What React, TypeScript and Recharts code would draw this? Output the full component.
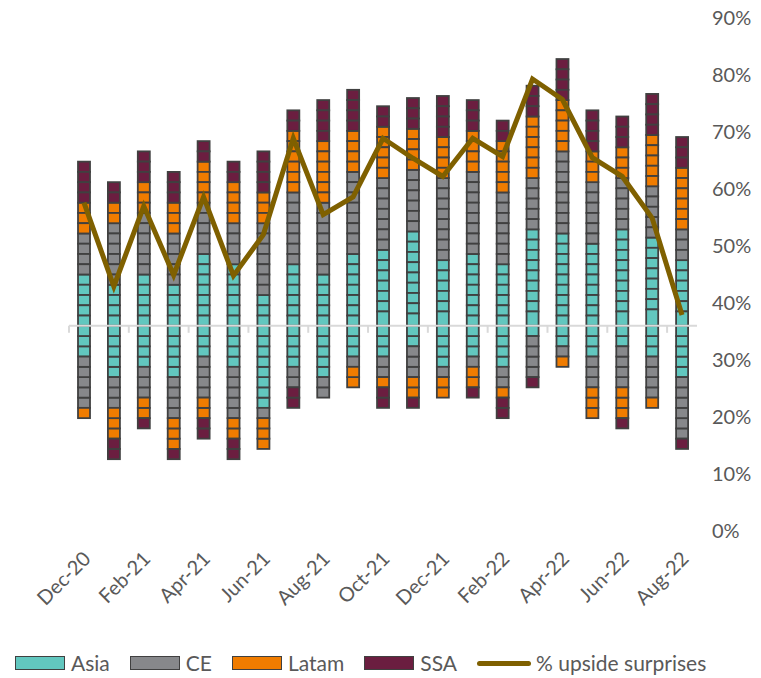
import React from 'react';
import { ComposedChart, Bar, Line, XAxis, YAxis, ReferenceLine } from 'recharts';

const months = [
  'Dec-20', 'Jan-21', 'Feb-21', 'Mar-21', 'Apr-21', 'May-21', 'Jun-21', 'Jul-21', 'Aug-21', 'Sep-21', 'Oct-21',
  'Nov-21', 'Dec-21', 'Jan-22', 'Feb-22', 'Mar-22', 'Apr-22', 'May-22', 'Jun-22', 'Jul-22', 'Aug-22',
];

// upside surprises (count, stacked above the zero line)
const asiaUp = [5, 4, 5, 4, 7, 6, 3, 6, 5, 7, 7.4, 9.2, 6.4, 7, 6, 9.4, 9, 8, 9.4, 8.6, 6.4];
const ceUp = [4, 6, 6, 5, 5, 4, 7, 7, 7, 8, 7, 6, 8, 8, 7, 5, 8, 6, 5, 5, 3];
const latamUp = [3, 2, 3, 3, 4, 4, 3, 6, 6, 4, 5, 4, 4, 4, 5, 6, 5, 3, 3, 5, 6];
const ssaUp = [4, 2, 3, 3, 2, 2, 4, 2, 4, 4, 2, 3, 4, 3, 2, 3, 4, 4, 3, 4, 3];

// downside surprises (count, stacked below the zero line)
const asiaDown = [3, 5, 4, 5, 3, 4, 8, 4, 5, 3, 3, 2, 4, 3, 4, 1, 2, 3, 2, 3, 5];
const ceDown = [5, 3, 3, 4, 4, 5, 1, 2, 2, 1, 2, 3, 1, 1, 2, 4, 1, 3, 4, 4, 6];
const latamDown = [1, 3, 2, 3, 2, 2, 3, 0, 0, 2, 1, 2, 2, 2, 1, 0, 1, 3, 3, 1, 0];
const ssaDown = [0, 2, 1, 1, 2, 2, 0, 2, 0, 0, 2, 1, 0, 1, 2, 1, 0, 0, 1, 0, 1];

// % upside surprises, right axis
const upsidePct = [57.6, 42.9, 57, 44.9, 58.6, 44.8, 52, 68.9, 55.5, 58.6, 68.9, 65.4, 62.2, 68.9, 65.7, 79.3, 75.7, 65.5, 62.2, 54.9, 37.9];

const pctTicks = [0, 10, 20, 30, 40, 50, 60, 70, 80, 90];

const regions = [
  { key: 'asia', name: 'Asia', color: '#62C7BF' },
  { key: 'ce', name: 'CE', color: '#87888B' },
  { key: 'latam', name: 'Latam', color: '#F07C00' },
  { key: 'ssa', name: 'SSA', color: '#6B1E40' },
];

const EDGE = '#404040';
const LINE_COLOR = '#7F6000';
const TEXT = '#595959';
const FONT = 'Lato, "Open Sans", sans-serif';

const data = months.map((m, i) => ({
  month: m,
  asiaUp: asiaUp[i],
  ceUp: ceUp[i],
  latamUp: latamUp[i],
  ssaUp: ssaUp[i],
  asiaDown: -asiaDown[i],
  ceDown: -ceDown[i],
  latamDown: -latamDown[i],
  ssaDown: -ssaDown[i],
  pct: upsidePct[i],
}));

// draws a stacked segment as a column of one-unit blocks
const blockShape = (key: string) => (props: any) => {
  const raw = props.payload ? props.payload[key] : 0;
  const v = Math.abs(raw || 0);
  let { x, y, width, height } = props;
  if (!v || !height) return <g />;
  if (height < 0) {
    y += height;
    height = -height;
  }
  const unit = height / v;
  const n = Math.max(1, Math.floor(v + 1e-6));
  const rects = [];
  for (let i = 0; i < n; i++) {
    const h = i === n - 1 ? height - unit * (n - 1) : unit;
    const top = raw > 0 ? y + i * unit : y + height - i * unit - h;
    rects.push(
      <rect key={i} x={x} y={top} width={width} height={h} fill={props.fill} stroke={EDGE} strokeWidth={1.8} />
    );
  }
  return <g>{rects}</g>;
};

const MonthTick = ({ x, y, payload }: any) => {
  const tx = x + 8;
  const ty = y + 29;
  return (
    <text x={tx} y={ty} transform={`rotate(-45, ${tx}, ${ty})`} textAnchor="end" fill={TEXT} fontSize={20} fontFamily={FONT}>
      {payload.value}
    </text>
  );
};

// zero line with small tick marks every two months
const ZeroLine = (props: any) => {
  const { x1, x2, y1 } = props;
  if (x1 == null || x2 == null) return <g />;
  const band = (x2 - x1) / months.length;
  const marks = [];
  for (let k = 0; k < months.length; k += 2) {
    const xx = x1 + k * band;
    marks.push(<line key={k} x1={xx} x2={xx} y1={y1} y2={y1 + 7} stroke="#D9D9D9" strokeWidth={2} />);
  }
  return (
    <g>
      <line x1={x1} x2={x2} y1={y1} y2={y1} stroke="#D9D9D9" strokeWidth={2} />
      {marks}
    </g>
  );
};

const Legend = () => (
  <div
    style={{
      position: 'absolute',
      left: 15,
      top: 652,
      display: 'flex',
      alignItems: 'center',
      gap: 20,
      fontFamily: FONT,
      fontSize: 21,
      color: TEXT,
      lineHeight: '22px',
    }}
  >
    {regions.map((r) => (
      <div key={r.key} style={{ display: 'flex', alignItems: 'center', gap: 6 }}>
        <div style={{ width: 48, height: 12, background: r.color, border: `1.8px solid ${EDGE}` }}></div>
        <span>{r.name}</span>
      </div>
    ))}
    <div style={{ display: 'flex', alignItems: 'center', gap: 5 }}>
      <div style={{ width: 54, height: 5, background: LINE_COLOR, borderRadius: 3 }}></div>
      <span>% upside surprises</span>
    </div>
  </div>
);

export default function App() {
  return (
    <div style={{ position: 'absolute', left: 0, top: 0, width: 761, height: 678, background: '#fff' }}>
      <ComposedChart
        width={761}
        height={678}
        data={data}
        stackOffset="sign"
        margin={{ top: 18, right: 0, bottom: 0, left: 69 }}
      >
        <XAxis
          dataKey="month"
          interval={1}
          axisLine={false}
          tickLine={false}
          tickSize={0}
          tickMargin={0}
          height={147}
          tick={<MonthTick />}
        />
        <YAxis yAxisId="left" hide domain={[-20, 30]} />
        <YAxis
          yAxisId="right"
          orientation="right"
          domain={[0, 90]}
          ticks={pctTicks}
          tickFormatter={(v: number) => `${v}%`}
          axisLine={false}
          tickLine={false}
          tickSize={0}
          tickMargin={15}
          width={64}
          tick={{ fill: TEXT, fontSize: 20, fontFamily: FONT }}
        />
        <ReferenceLine yAxisId="left" y={0} stroke="none" shape={<ZeroLine />} />
        {regions.map((r) => (
          <Bar
            key={r.key + 'Up'}
            yAxisId="left"
            dataKey={r.key + 'Up'}
            stackId="s"
            barSize={12}
            fill={r.color}
            shape={blockShape(r.key + 'Up')}
            isAnimationActive={false}
          />
        ))}
        {regions.map((r) => (
          <Bar
            key={r.key + 'Down'}
            yAxisId="left"
            dataKey={r.key + 'Down'}
            stackId="s"
            barSize={12}
            fill={r.color}
            shape={blockShape(r.key + 'Down')}
            isAnimationActive={false}
          />
        ))}
        <Line
          yAxisId="right"
          type="linear"
          dataKey="pct"
          stroke={LINE_COLOR}
          strokeWidth={5}
          dot={false}
          isAnimationActive={false}
        />
      </ComposedChart>
      <Legend />
    </div>
  );
}
